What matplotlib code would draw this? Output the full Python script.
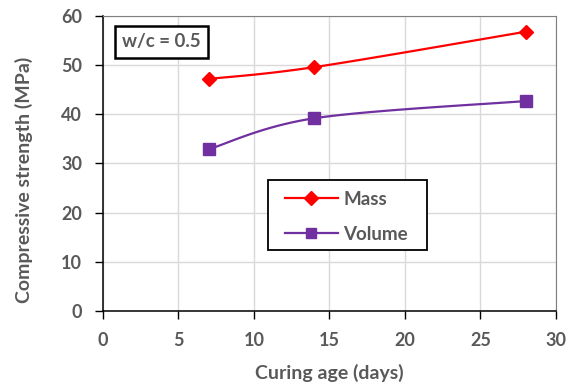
import numpy as np
import matplotlib
matplotlib.use("Agg")
import matplotlib.pyplot as plt
from matplotlib.lines import Line2D
from matplotlib.patches import Rectangle

days = [7, 14, 28]
mass = [47.2, 49.6, 56.8]
volume = [32.9, 39.2, 42.7]
x_ticks = [0, 5, 10, 15, 20, 25, 30]
y_ticks = [0, 10, 20, 30, 40, 50, 60]

plt.rcParams['font.family'] = ['Lato', 'DejaVu Sans']
plt.rcParams['font.weight'] = 'bold'
TXT = '#595959'

def smooth(x, y, n=40):
    x = np.asarray(x, float); y = np.asarray(y, float)
    pts = np.column_stack([x, y])
    out = []
    for i in range(len(pts) - 1):
        p0 = pts[i]; p3 = pts[i + 1]
        prev = pts[i - 1] if i > 0 else pts[i]
        nxt = pts[i + 2] if i + 2 < len(pts) else pts[i + 1]
        p1 = p0 + (p3 - prev) / 6
        p2 = p3 - (nxt - p0) / 6
        t = np.linspace(0, 1, n)[:, None]
        seg = (1 - t) ** 3 * p0 + 3 * (1 - t) ** 2 * t * p1 + 3 * (1 - t) * t ** 2 * p2 + t ** 3 * p3
        out.append(seg if i == 0 else seg[1:])
    s = np.vstack(out)
    return s[:, 0], s[:, 1]

fig = plt.figure(figsize=(5.77, 3.87), dpi=100)
ax = fig.add_axes([0.1785, 0.1964, 0.785, 0.7623])

red = '#FF0000'
purple = '#7030A0'
sx, sy = smooth(days, mass)
ax.plot(sx, sy, color=red, lw=1.6, zorder=3)
ax.plot(days, mass, ls='none', marker='D', ms=7.5, color=red, zorder=4)
sx, sy = smooth(days, volume)
ax.plot(sx, sy, color=purple, lw=1.6, zorder=3)
ax.plot(days, volume, ls='none', marker='s', ms=8.5, color=purple, zorder=4)

ax.set_xlim(0, 30)
ax.set_ylim(0, 60)
ax.set_xticks(x_ticks)
ax.set_yticks(y_ticks)
ax.grid(True, color='#D9D9D9', lw=1)
ax.set_axisbelow(True)
for s in ['top', 'right']:
    ax.spines[s].set_color('#7F7F7F')
for s in ['left', 'bottom']:
    ax.spines[s].set_color('black')
    ax.spines[s].set_linewidth(1.1)
ax.tick_params(axis='both', direction='out', length=6, width=1, colors='black',
               labelcolor=TXT, labelsize=13)
ax.tick_params(axis='x', pad=9)
ax.tick_params(axis='y', pad=9)
ax.set_xlabel('Curing age (days)', fontsize=14, fontweight='bold', color=TXT, labelpad=11)
ax.set_ylabel('Compressive strength (MPa)', fontsize=14, fontweight='bold', color=TXT)
ax.yaxis.set_label_coords(-0.1545, 0.444)

ax.text(0.042, 0.912, 'w/c = 0.5', transform=ax.transAxes, fontsize=13.5, fontweight='bold',
        color=TXT, va='center', ha='left',
        bbox=dict(boxstyle='square,pad=0.4', fc='white', ec='black', lw=1.8))

# legend frame and entries
ax.add_patch(Rectangle((0.364, 0.207), 0.351, 0.237, transform=ax.transAxes,
                       fc='white', ec='black', lw=1.3, zorder=5))
handles = [Line2D([], [], color=red, lw=1.6, marker='D', ms=7.5),
           Line2D([], [], color=purple, lw=1.6, marker='s', ms=7.5)]
leg = ax.legend(handles, ['Mass', 'Volume'], loc='upper left', bbox_to_anchor=(0.402, 0.408),
                frameon=False, prop={'size': 13.5, 'weight': 'bold'},
                handlelength=2.8, labelspacing=0.97, borderpad=0, handletextpad=0.3,
                borderaxespad=0)
leg.set_zorder(6)
for t in leg.get_texts():
    t.set_color(TXT)

fig.savefig('out.png', dpi=100)
